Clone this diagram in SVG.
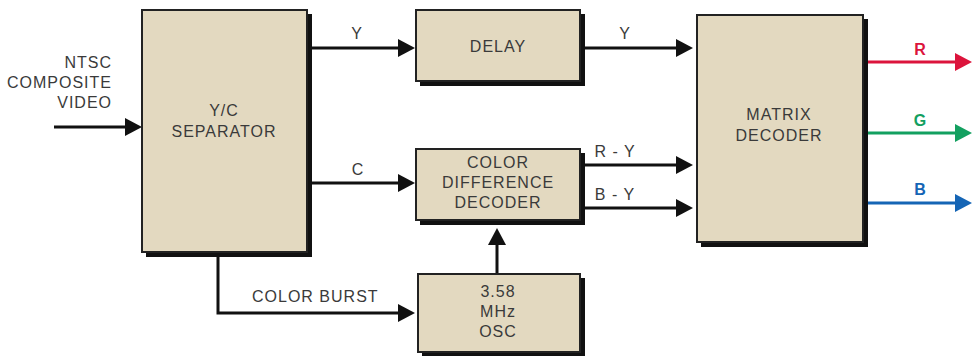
<svg xmlns="http://www.w3.org/2000/svg" width="972" height="356" viewBox="0 0 972 356">
<style>
.box{fill:#e3d9c0;stroke:#222;stroke-width:2}
.shadow{fill:#111}
.t{font-family:"Liberation Sans",Arial,sans-serif;font-size:16px;fill:#3a3a3a;letter-spacing:1px;text-anchor:middle}
.tr{text-anchor:end}
.ts{text-anchor:start}
.w{fill:none;stroke:#111;stroke-width:3}
.rgb{font-family:"Liberation Sans",Arial,sans-serif;font-size:16px;font-weight:bold;text-anchor:middle}
</style>
<defs>
<marker id="ak" markerUnits="userSpaceOnUse" markerWidth="17" markerHeight="18" refX="2" refY="9" orient="auto"><path d="M0,0 L17,9 L0,18 z" fill="#111"/></marker>
<marker id="ar" markerUnits="userSpaceOnUse" markerWidth="17" markerHeight="18" refX="2" refY="9" orient="auto"><path d="M0,0 L17,9 L0,18 z" fill="#dc143c"/></marker>
<marker id="ag" markerUnits="userSpaceOnUse" markerWidth="17" markerHeight="18" refX="2" refY="9" orient="auto"><path d="M0,0 L17,9 L0,18 z" fill="#13a060"/></marker>
<marker id="ab" markerUnits="userSpaceOnUse" markerWidth="17" markerHeight="18" refX="2" refY="9" orient="auto"><path d="M0,0 L17,9 L0,18 z" fill="#1565b5"/></marker>
</defs>
<rect width="972" height="356" fill="#fff"/>

<g id="connectors">
<path class="w" d="M54,127 H127" marker-end="url(#ak)"/>
<path class="w" d="M312,48 H400" marker-end="url(#ak)"/>
<path class="w" d="M585,48 H678" marker-end="url(#ak)"/>
<path class="w" d="M312,183 H400" marker-end="url(#ak)"/>
<path class="w" d="M585,165 H678" marker-end="url(#ak)"/>
<path class="w" d="M585,208 H678" marker-end="url(#ak)"/>
<path class="w" d="M497,274 V243" marker-end="url(#ak)"/>
<path class="w" d="M218,254 V313 H400" marker-end="url(#ak)"/>
<path fill="none" stroke="#dc143c" stroke-width="3" d="M866,62 H957" marker-end="url(#ar)"/>
<path fill="none" stroke="#13a060" stroke-width="3" d="M866,133 H957" marker-end="url(#ag)"/>
<path fill="none" stroke="#1565b5" stroke-width="3" d="M866,203 H957" marker-end="url(#ab)"/>
<text class="t" x="357" y="39">Y</text>
<text class="t" x="625" y="39">Y</text>
<text class="t" x="358" y="175">C</text>
<text class="t" x="615" y="157">R - Y</text>
<text class="t" x="615" y="200">B - Y</text>
<text class="t ts" x="252" y="302">COLOR BURST</text>
<text class="rgb" x="920" y="55" fill="#dc143c">R</text>
<text class="rgb" x="920" y="126" fill="#13a060">G</text>
<text class="rgb" x="920" y="195" fill="#1565b5">B</text>
</g>

<g id="input-label">
<text class="t tr" x="112" y="68">NTSC</text>
<text class="t tr" x="112" y="88">COMPOSITE</text>
<text class="t tr" x="112" y="108">VIDEO</text>
</g>

<g id="yc-separator">
<rect class="shadow" x="146" y="14" width="166" height="243"/>
<rect class="box" x="142" y="10" width="165" height="242"/>
<text class="t" x="224" y="116">Y/C</text>
<text class="t" x="224" y="137">SEPARATOR</text>
</g>

<g id="delay">
<rect class="shadow" x="420" y="14" width="165" height="72"/>
<rect class="box" x="416" y="10" width="164" height="71"/>
<text class="t" x="498" y="52">DELAY</text>
</g>

<g id="color-difference-decoder">
<rect class="shadow" x="420" y="153" width="165" height="72"/>
<rect class="box" x="416" y="149" width="164" height="71"/>
<text class="t" x="498" y="168">COLOR</text>
<text class="t" x="498" y="188">DIFFERENCE</text>
<text class="t" x="498" y="208">DECODER</text>
</g>

<g id="oscillator">
<rect class="shadow" x="422" y="278" width="163" height="78"/>
<rect class="box" x="418" y="274" width="162" height="78"/>
<text class="t" x="498" y="297">3.58</text>
<text class="t" x="498" y="317">MHz</text>
<text class="t" x="498" y="337">OSC</text>
</g>

<g id="matrix-decoder">
<rect class="shadow" x="701" y="19" width="167" height="228"/>
<rect class="box" x="697" y="15" width="166" height="227"/>
<text class="t" x="779" y="120">MATRIX</text>
<text class="t" x="779" y="141">DECODER</text>
</g>
</svg>
